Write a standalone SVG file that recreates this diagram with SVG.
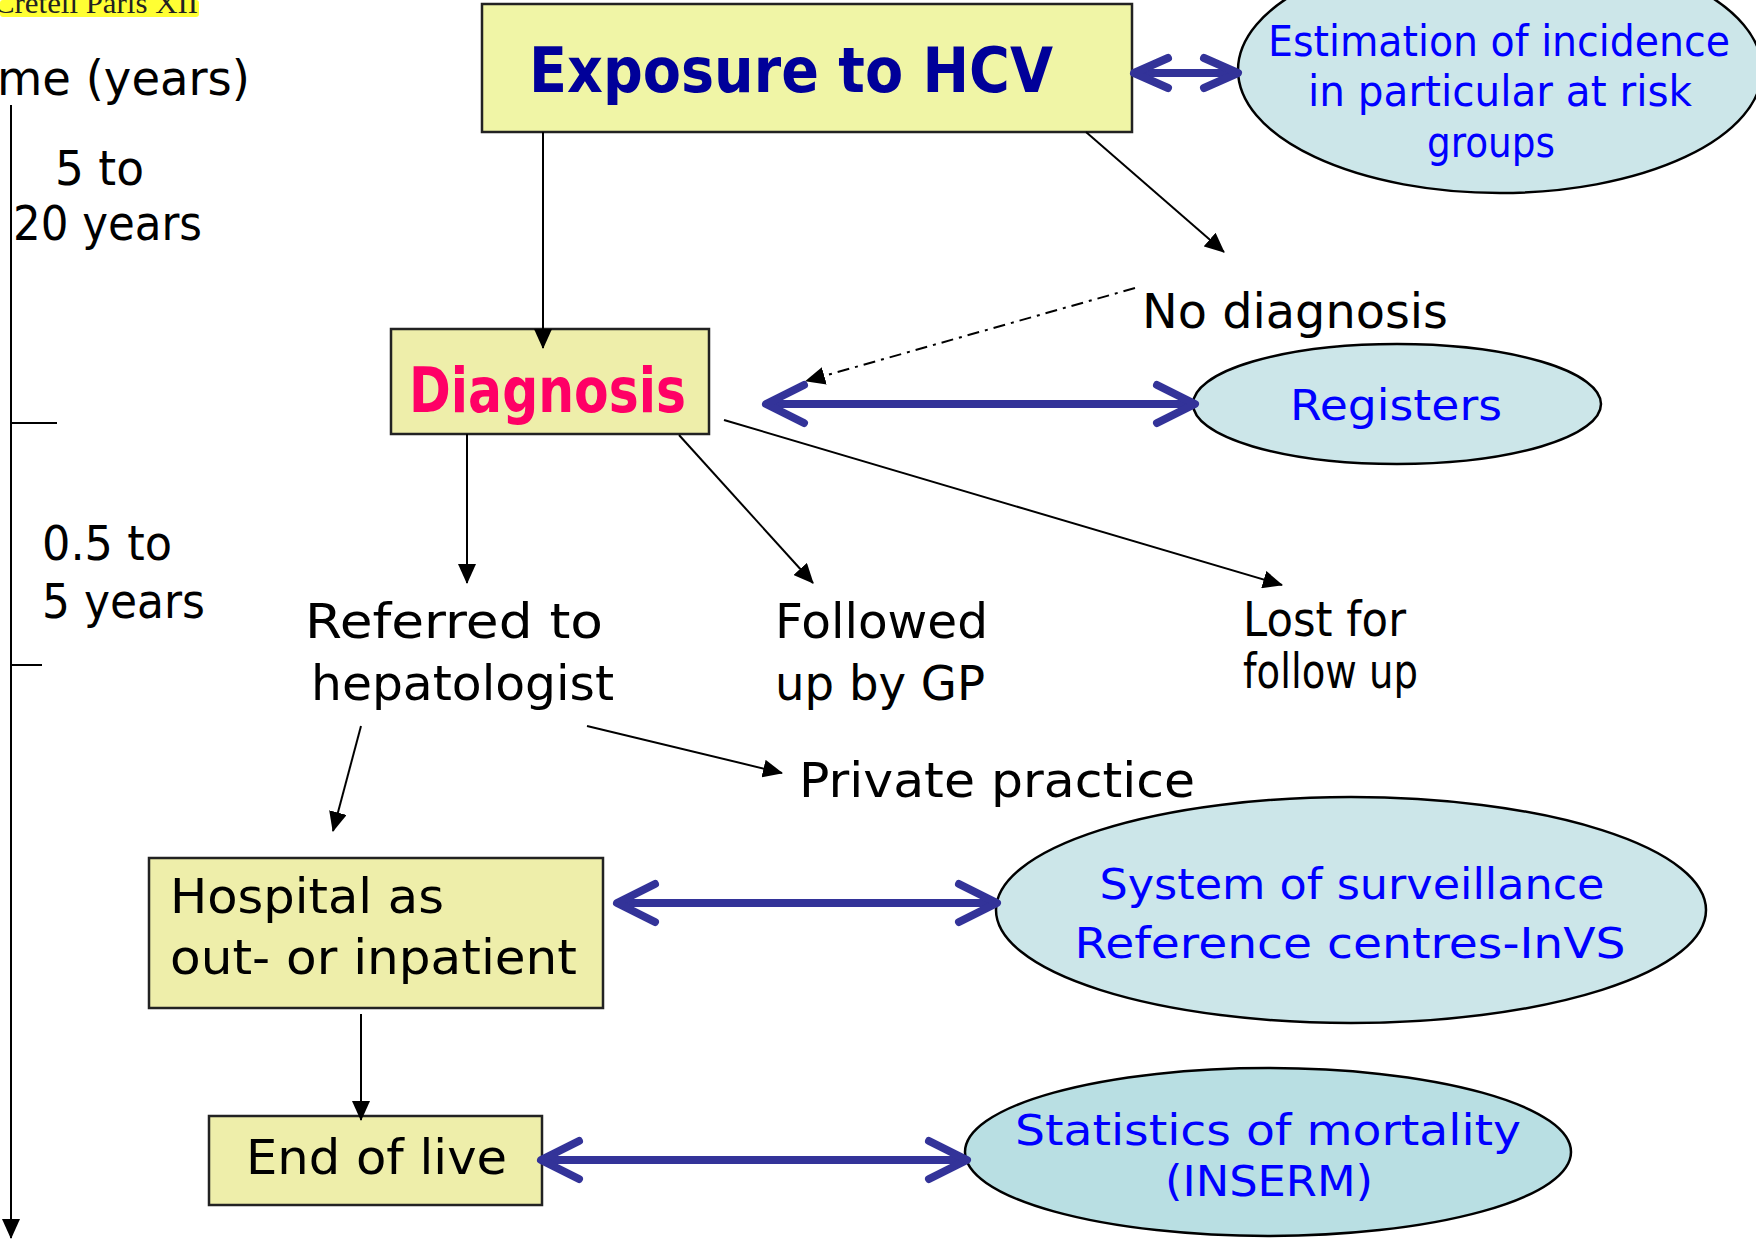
<svg xmlns="http://www.w3.org/2000/svg" width="1756" height="1239" viewBox="0 0 1756 1239">
<style>
text{font-family:"DejaVu Sans","Noto Sans",sans-serif;}
.t{fill:#000;font-size:48px;}
.box{fill:#eeeeaa;stroke:#222;stroke-width:2.5;}
.ell{fill:#cce6e9;stroke:#000;stroke-width:2.5;}
.et{fill:#0000ff;font-size:42px;text-anchor:middle;}
.thin{stroke:#000;stroke-width:2;fill:none;}
.blue{stroke:#333399;stroke-width:8;fill:none;}
</style>
<defs>
<marker id="ah" markerUnits="userSpaceOnUse" viewBox="0 0 20 18" markerWidth="20" markerHeight="18" refX="19" refY="9" orient="auto">
<path d="M0,0 L20,9 L0,18 z" fill="#000"/>
</marker>
<marker id="chev" markerUnits="userSpaceOnUse" viewBox="0 0 50 50" markerWidth="50" markerHeight="50" refX="44" refY="25" orient="auto-start-reverse">
<path d="M6,6 L44,25 L6,44" fill="none" stroke="#333399" stroke-width="8" stroke-linecap="round" stroke-linejoin="round"/>
</marker>
<marker id="chevs" markerUnits="userSpaceOnUse" viewBox="0 0 50 50" markerWidth="50" markerHeight="50" refX="44" refY="25" orient="auto-start-reverse">
<path d="M10,10 L44,25 L10,40" fill="none" stroke="#333399" stroke-width="8" stroke-linecap="round" stroke-linejoin="round"/>
</marker>
</defs>
<rect width="1756" height="1239" fill="#fff"/>

<g id="header">
<rect x="0" y="0" width="199" height="17" rx="3" fill="#ffff33"/>
<text x="-6" y="13" style="font-family:'Liberation Serif',serif;font-size:30px;fill:#222" textLength="204" lengthAdjust="spacingAndGlyphs">Creteil Paris XII</text>
</g>

<g id="timeline">
<text class="t" x="-3" y="95" font-size="50" textLength="253" lengthAdjust="spacingAndGlyphs">me (years)</text>
<line x1="11" y1="105" x2="11" y2="1238" class="thin" marker-end="url(#ah)"/>
<line x1="11" y1="423" x2="57" y2="423" class="thin"/>
<line x1="11" y1="665" x2="42" y2="665" class="thin"/>
<text class="t" x="55" y="185" textLength="89" lengthAdjust="spacingAndGlyphs">5 to</text>
<text class="t" x="13" y="240" textLength="189" lengthAdjust="spacingAndGlyphs">20 years</text>
<text class="t" x="42" y="560" textLength="130" lengthAdjust="spacingAndGlyphs">0.5 to</text>
<text class="t" x="42" y="618" textLength="163" lengthAdjust="spacingAndGlyphs">5 years</text>
</g>

<g id="exposure">
<rect x="482" y="4" width="650" height="128" style="fill:#f0f5a6;stroke:#222;stroke-width:2.5"/>
<text x="529" y="92" style="font-size:62px;font-weight:bold;fill:#000099" textLength="524" lengthAdjust="spacingAndGlyphs">Exposure to HCV</text>
</g>

<g id="estimation">
<ellipse class="ell" cx="1500" cy="70" rx="262" ry="123"/>
<text class="et" x="1499" y="56" textLength="462" lengthAdjust="spacingAndGlyphs">Estimation of incidence</text>
<text class="et" x="1500" y="106" textLength="384" lengthAdjust="spacingAndGlyphs">in particular at risk</text>
<text class="et" x="1491" y="157" textLength="128" lengthAdjust="spacingAndGlyphs">groups</text>
</g>

<g id="no-diagnosis">
<text class="t" x="1142" y="328" font-size="54" textLength="306" lengthAdjust="spacingAndGlyphs">No diagnosis</text>
</g>

<g id="diagnosis">
<rect class="box" x="391" y="329" width="318" height="105"/>
<text x="409" y="412" style="font-size:62px;font-weight:bold;fill:#ff0066" textLength="277" lengthAdjust="spacingAndGlyphs">Diagnosis</text>
</g>

<g id="registers">
<ellipse class="ell" cx="1397" cy="404" rx="204" ry="60"/>
<text class="et" x="1396" y="420" textLength="212" lengthAdjust="spacingAndGlyphs">Registers</text>
</g>

<g id="referred">
<text class="t" x="305" y="638" font-size="52" textLength="298" lengthAdjust="spacingAndGlyphs">Referred to</text>
<text class="t" x="311" y="700" font-size="52" textLength="303" lengthAdjust="spacingAndGlyphs">hepatologist</text>
</g>

<g id="followed">
<text class="t" x="775" y="638" font-size="52" textLength="213" lengthAdjust="spacingAndGlyphs">Followed</text>
<text class="t" x="775" y="700" font-size="52" textLength="210" lengthAdjust="spacingAndGlyphs">up by GP</text>
</g>

<g id="lost">
<text class="t" x="1243" y="636" font-size="37" textLength="163" lengthAdjust="spacingAndGlyphs">Lost for</text>
<text class="t" x="1243" y="688" font-size="37" textLength="175" lengthAdjust="spacingAndGlyphs">follow up</text>
</g>

<g id="private-practice">
<text class="t" x="799" y="797" font-size="52" textLength="396" lengthAdjust="spacingAndGlyphs">Private practice</text>
</g>

<g id="hospital">
<rect class="box" x="149" y="858" width="454" height="150"/>
<text class="t" x="170" y="913" font-size="52" textLength="274" lengthAdjust="spacingAndGlyphs">Hospital as</text>
<text class="t" x="170" y="974" font-size="52" textLength="407" lengthAdjust="spacingAndGlyphs">out- or inpatient</text>
</g>

<g id="surveillance">
<ellipse class="ell" cx="1351" cy="910" rx="355" ry="113"/>
<text class="et" x="1352" y="899" font-size="46" textLength="505" lengthAdjust="spacingAndGlyphs">System of surveillance</text>
<text class="et" x="1350" y="958" font-size="46" textLength="551" lengthAdjust="spacingAndGlyphs">Reference centres-InVS</text>
</g>

<g id="end-of-live">
<rect class="box" x="209" y="1116" width="333" height="89"/>
<text class="t" x="246" y="1174" font-size="52" textLength="261" lengthAdjust="spacingAndGlyphs">End of live</text>
</g>

<g id="mortality">
<ellipse cx="1268" cy="1152" rx="303" ry="84" style="fill:#b9dfe3;stroke:#000;stroke-width:2.5"/>
<text class="et" x="1268" y="1145" font-size="46" textLength="506" lengthAdjust="spacingAndGlyphs">Statistics of mortality</text>
<text class="et" x="1269" y="1196" font-size="46" textLength="208" lengthAdjust="spacingAndGlyphs">(INSERM)</text>
</g>

<g id="connectors">
<line x1="543" y1="132" x2="543" y2="348" class="thin" marker-end="url(#ah)"/>
<line x1="1086" y1="132" x2="1224" y2="252" class="thin" marker-end="url(#ah)"/>
<line x1="1135" y1="288" x2="806" y2="381" class="thin" stroke-dasharray="12,6,3,6" marker-end="url(#ah)"/>
<line x1="467" y1="434" x2="467" y2="583" class="thin" marker-end="url(#ah)"/>
<line x1="679" y1="435" x2="813" y2="583" class="thin" marker-end="url(#ah)"/>
<line x1="724" y1="420" x2="1282" y2="585" class="thin" marker-end="url(#ah)"/>
<line x1="361" y1="726" x2="333" y2="831" class="thin" marker-end="url(#ah)"/>
<line x1="587" y1="726" x2="782" y2="773" class="thin" marker-end="url(#ah)"/>
<line x1="361" y1="1014" x2="361" y2="1120" class="thin" marker-end="url(#ah)"/>
<line x1="1134" y1="73" x2="1238" y2="73" class="blue" marker-start="url(#chevs)" marker-end="url(#chevs)"/>
<line x1="766" y1="404" x2="1195" y2="404" class="blue" marker-start="url(#chev)" marker-end="url(#chev)"/>
<line x1="617" y1="903" x2="997" y2="903" class="blue" marker-start="url(#chev)" marker-end="url(#chev)"/>
<line x1="541" y1="1160" x2="967" y2="1160" class="blue" marker-start="url(#chev)" marker-end="url(#chev)"/>
</g>
</svg>
